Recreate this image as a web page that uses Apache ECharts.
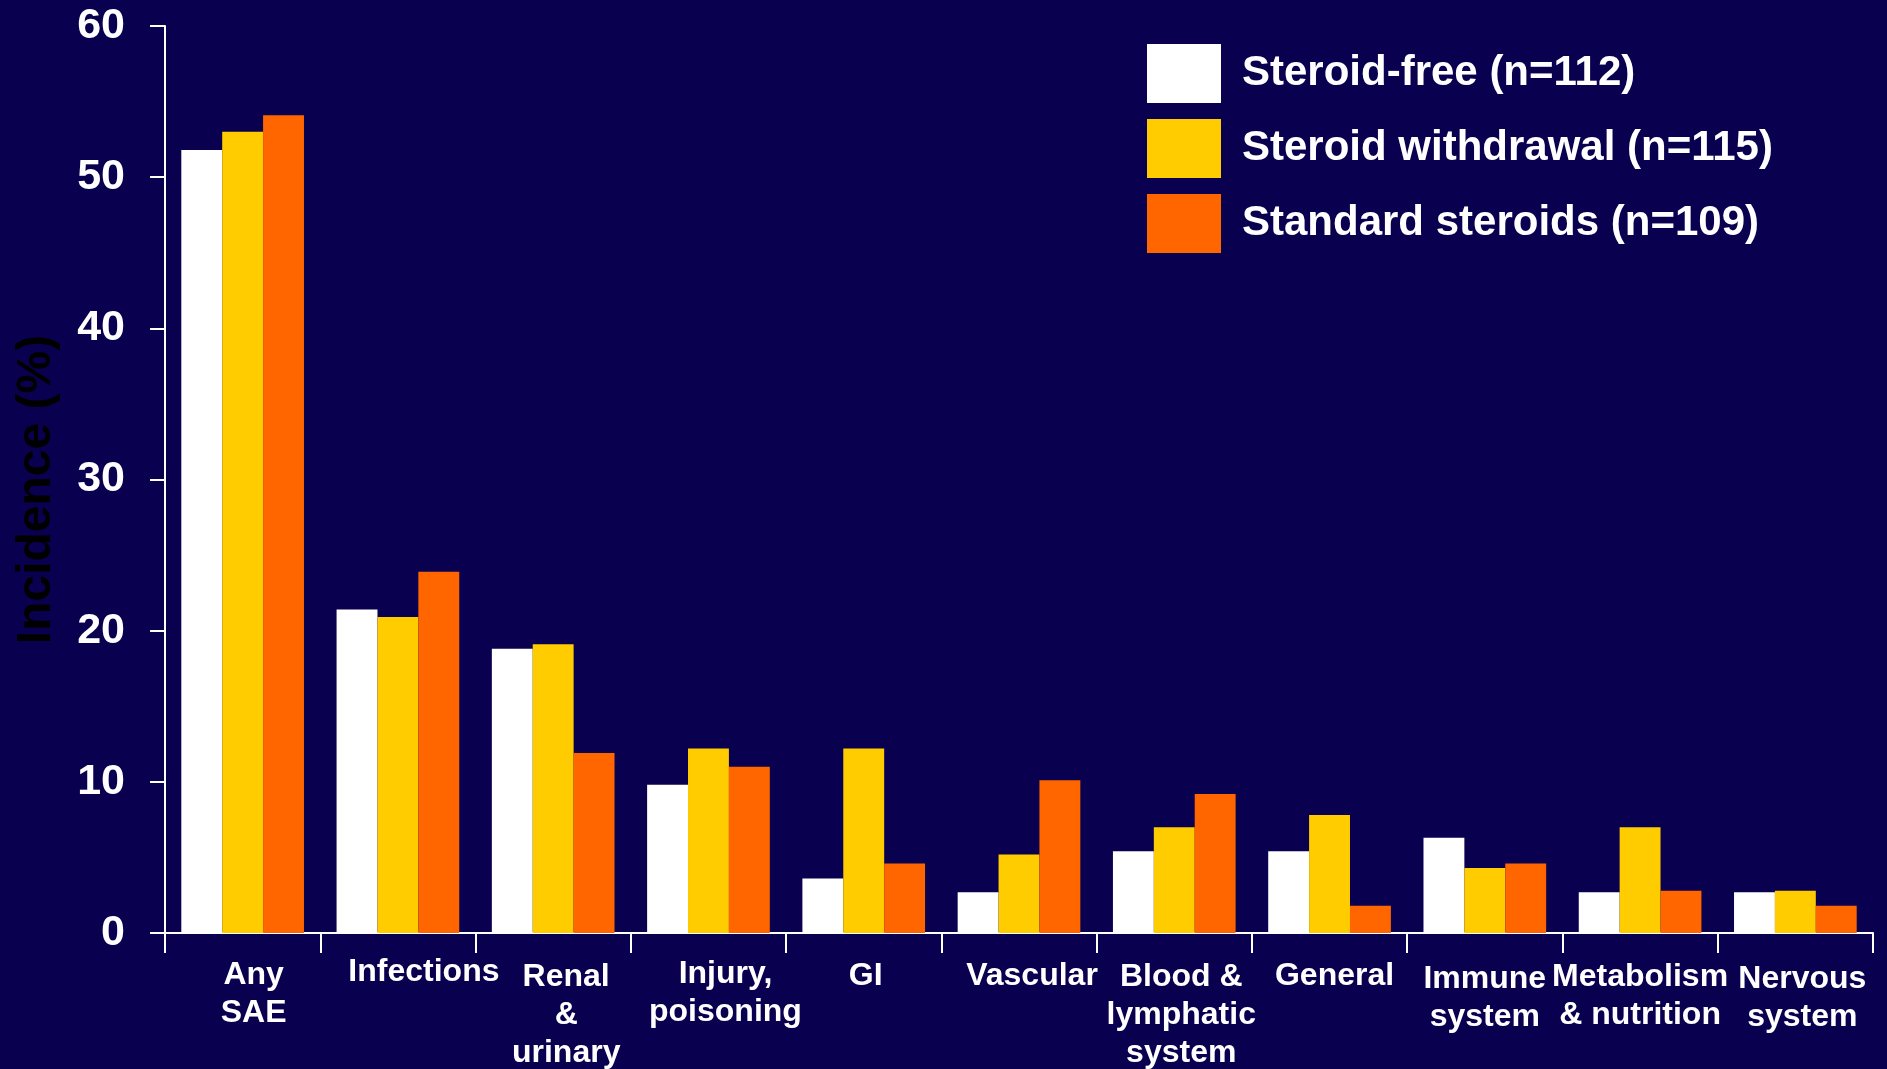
<!DOCTYPE html>
<html>
<head>
<meta charset="utf-8">
<title>Serious adverse events by system organ class</title>
<script src="https://cdn.jsdelivr.net/npm/echarts@6/dist/echarts.min.js"></script>
<style>
  html, body { margin: 0; padding: 0; background: #0a0050; }
  #chart { width: 1887px; height: 1069px; }
</style>
</head>
<body>
<div id="chart"></div>
<script>
// System organ classes (x axis)
const categories = [
  'Any\nSAE', 'Infections', 'Renal\n&\nurinary', 'Injury,\npoisoning', 'GI',
  'Vascular', 'Blood &\nlymphatic\nsystem', 'General', 'Immune\nsystem',
  'Metabolism\n& nutrition', 'Nervous\nsystem'
];

// Incidence (%) per treatment arm
const steroidFree       = [51.8, 21.4, 18.8, 9.8, 3.6, 2.7, 5.4, 5.4, 6.3, 2.7, 2.7];
const steroidWithdrawal = [53.0, 20.9, 19.1, 12.2, 12.2, 5.2, 7.0, 7.8, 4.3, 7.0, 2.8];
const standardSteroids  = [54.1, 23.9, 11.9, 11.0, 4.6, 10.1, 9.2, 1.8, 4.6, 2.8, 1.8];

const seriesNames = [
  'Steroid-free (n=112)',
  'Steroid withdrawal (n=115)',
  'Standard steroids (n=109)'
];
const seriesColors = ['#ffffff', '#ffcc00', '#ff6600'];

const yTicks = { min: 0, max: 60, interval: 10 };

// Hand-placed category captions: small right / down nudges (px) per label
const labelShiftX = [11, 26, 13, 17, 2, 13, 7, 5, 0, 0, 7];
const labelShiftY = [3, 0, 5, 2, 4, 4, 5, 4, 7, 5, 7];

const font = '"Liberation Sans", Arial, sans-serif';
const axisLineStyle = { color: '#ffffff', width: 2 };

const categoryItems = categories.map((c, i) => ({
  value: c,
  textStyle: { padding: [labelShiftY[i], 0, 0, labelShiftX[i] * 2] }
}));

const chart = echarts.init(document.getElementById('chart'));
const values = [steroidFree, steroidWithdrawal, standardSteroids];

chart.setOption({
  backgroundColor: '#0a0050',
  animation: false,
  grid: {
    left: 165, right: 14, top: 26, bottom: 136,
    containLabel: false,
    outerBoundsMode: 'none'
  },
  legend: {
    orient: 'vertical',
    left: 1142,
    top: 39,
    itemWidth: 74,
    itemHeight: 59,
    itemGap: 16,
    icon: 'rect',
    data: seriesNames,
    textStyle: {
      color: '#ffffff',
      fontFamily: font,
      fontWeight: 'bold',
      fontSize: 42,
      padding: [12, 0, 0, 16]
    }
  },
  xAxis: {
    type: 'category',
    data: categoryItems,
    boundaryGap: true,
    axisLine: { show: true, lineStyle: axisLineStyle },
    axisTick: { show: true, inside: false, length: 20, alignWithLabel: false, lineStyle: axisLineStyle },
    axisLabel: {
      interval: 0,
      margin: 20,
      color: '#ffffff',
      fontFamily: font,
      fontWeight: 'bold',
      fontSize: 32,
      lineHeight: 38
    },
    splitLine: { show: false }
  },
  yAxis: {
    type: 'value',
    min: yTicks.min,
    max: yTicks.max,
    interval: yTicks.interval,
    name: 'Incidence (%)',
    nameLocation: 'middle',
    nameGap: 104,
    nameRotate: 90,
    nameTextStyle: {
      color: '#000000',
      fontFamily: font,
      fontWeight: 'bold',
      fontSize: 48,
      padding: [0, 20, 0, 0]
    },
    axisLine: { show: true, lineStyle: axisLineStyle },
    axisTick: { show: true, inside: false, length: 15, lineStyle: axisLineStyle },
    axisLabel: {
      margin: 40,
      color: '#ffffff',
      fontFamily: font,
      fontWeight: 'bold',
      fontSize: 43
    },
    splitLine: { show: false }
  },
  series: seriesNames.map((name, i) => ({
    name: name,
    type: 'bar',
    data: values[i],
    barGap: '0%',
    barCategoryGap: '21%',
    itemStyle: { color: seriesColors[i] }
  }))
});
</script>
</body>
</html>
